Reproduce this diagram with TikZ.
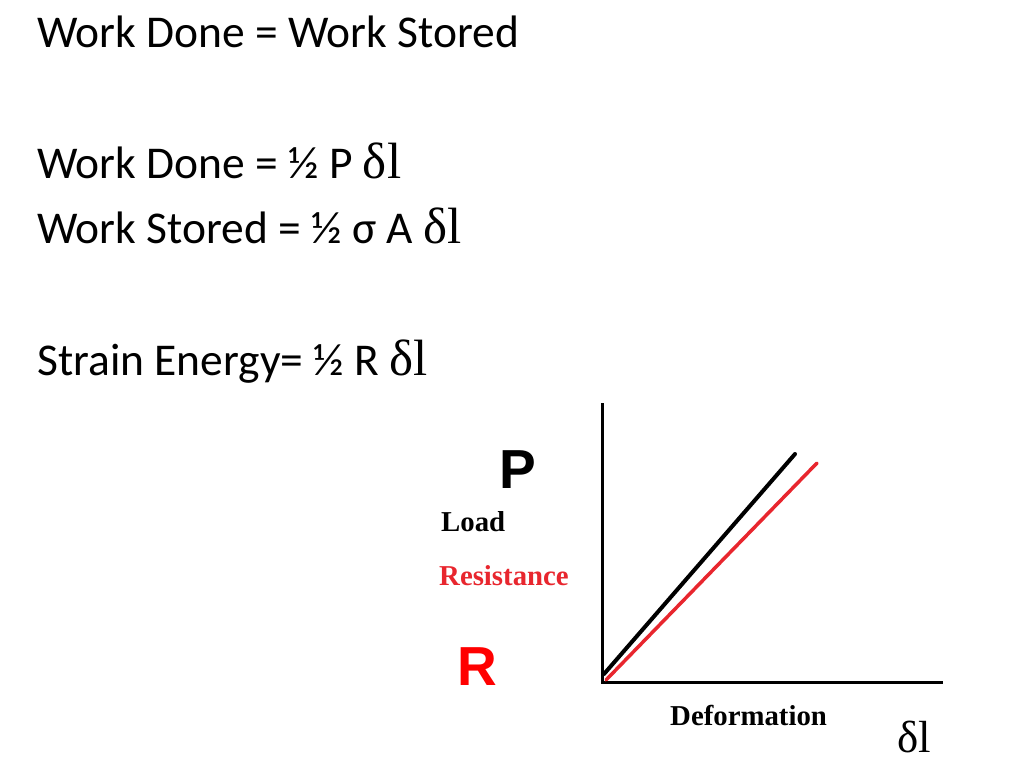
\documentclass[tikz,border=0pt]{standalone}
\usepackage{fontspec}
\setmainfont{Carlito}
\newfontfamily\serifgr{Liberation Serif}
\newfontfamily\sansbig{Liberation Sans}
\definecolor{resred}{RGB}{232,38,46}
\begin{document}
\begin{tikzpicture}[x=1pt,y=-1pt,
    eqn/.style={anchor=base west,inner sep=0pt,font=\fontsize{45.5}{52}\selectfont},
    axlabel/.style={anchor=base west,inner sep=0pt,font=\serifgr\bfseries\fontsize{28.8}{32}\selectfont},
    bigletter/.style={anchor=base west,inner sep=0pt,font=\sansbig\bfseries\fontsize{55}{64}\selectfont}]
        \useasboundingbox (0,0) rectangle (1024,768);

        % equations
        \node[eqn] (workeq) at (37,48) {Work Done = Work Stored};
        \node[eqn] (donehalf) at (37,178) {Work Done = ½ P {\serifgr\fontsize{51}{52}\selectfont δl}};
        \node[eqn] (storedhalf) at (37,243) {Work Stored = ½ σ A {\serifgr\fontsize{51}{52}\selectfont δl}};
        \node[eqn] (strainhalf) at (37,375) {Strain Energy= ½ R {\serifgr\fontsize{51}{52}\selectfont δl}};

        % graph
        \coordinate (origin) at (602,682);
        \coordinate (ytop) at (602,403);
        \coordinate (xend) at (943,682);
        \coordinate (loadstart) at (604,674);
        \coordinate (loadend) at (795,454);
        \coordinate (resstart) at (606,680);
        \coordinate (resend) at (817,463);

        \draw[line width=3pt] (ytop) -- (origin) -- (xend);
        \draw[line width=4pt,line cap=round] (loadstart) -- (loadend);
        \draw[line width=3.5pt,line cap=round,color=resred] (resstart) -- (resend);

        \node[bigletter] (pletter) at (499,488) {P};
        \node[axlabel] (load) at (441,531) {Load};
        \node[axlabel,color=resred] (resist) at (439,585) {Resistance};
        \node[bigletter,color=red] (rletter) at (457,685) {R};
        \node[axlabel] (deform) at (670,725) {Deformation};
        \node[anchor=base west,inner sep=0pt,font=\serifgr\fontsize{45}{52}\selectfont] (dl) at (897,752) {δl};
    \end{tikzpicture}
\end{document}
